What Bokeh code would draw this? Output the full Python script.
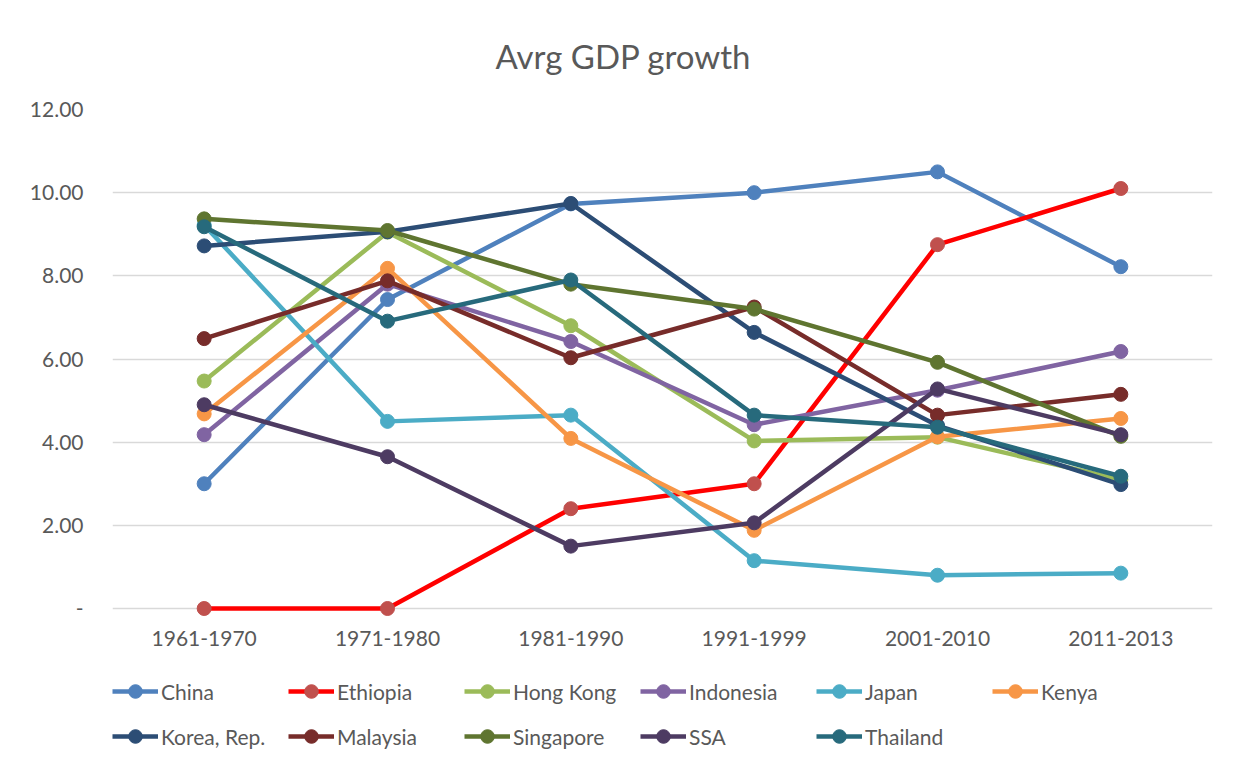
from bokeh.plotting import figure
from bokeh.models import FactorRange, Range1d, FixedTicker, Legend, LegendItem
from bokeh.core.properties import value
from bokeh.embed import file_html
from bokeh.resources import INLINE

periods = ["1961-1970", "1971-1980", "1981-1990", "1991-1999", "2001-2010", "2011-2013"]

china = [3.00, 7.43, 9.73, 10.00, 10.50, 8.22]
ethiopia = [0.00, 0.00, 2.40, 3.00, 8.75, 10.10]
hong_kong = [5.47, 9.05, 6.80, 4.03, 4.12, 3.10]
indonesia = [4.18, 7.80, 6.42, 4.42, 5.25, 6.18]
japan = [9.22, 4.50, 4.65, 1.15, 0.80, 0.85]
kenya = [4.68, 8.18, 4.09, 1.88, 4.13, 4.57]
korea = [8.72, 9.06, 9.74, 6.64, 4.40, 2.98]
malaysia = [6.49, 7.88, 6.03, 7.25, 4.65, 5.15]
singapore = [9.37, 9.09, 7.80, 7.20, 5.92, 4.14]
ssa = [4.90, 3.65, 1.50, 2.06, 5.28, 4.18]
thailand = [9.18, 6.91, 7.90, 4.65, 4.36, 3.18]

y_ticks = [0, 2, 4, 6, 8, 10, 12]
y_tick_labels = ["-", "2.00", "4.00", "6.00", "8.00", "10.00", "12.00"]

series = [
    ("China", china, "#4F81BD", "#4F81BD"),
    ("Ethiopia", ethiopia, "#FF0000", "#C0504D"),
    ("Hong Kong", hong_kong, "#9BBB59", "#9BBB59"),
    ("Indonesia", indonesia, "#8064A2", "#8064A2"),
    ("Japan", japan, "#4BACC6", "#4BACC6"),
    ("Kenya", kenya, "#F79646", "#F79646"),
    ("Korea, Rep.", korea, "#2C4D75", "#2C4D75"),
    ("Malaysia", malaysia, "#772C2A", "#772C2A"),
    ("Singapore", singapore, "#5F7530", "#5F7530"),
    ("SSA", ssa, "#4D3B62", "#4D3B62"),
    ("Thailand", thailand, "#276A7C", "#276A7C"),
]

FONT = "Lato"
TXT = "#595959"

# layout (pixels)
PLOT_PX = 499          # height of the 0..12 value band
BELOW_PX = 159         # band below the value 0 that holds category labels + legend
Y_MAX = 12
px_per_unit = PLOT_PX / Y_MAX
y_min = -BELOW_PX / px_per_unit
label_y = -30 / px_per_unit

p = figure(frame_width=1100, frame_height=PLOT_PX + BELOW_PX,
           x_range=FactorRange(*periods), y_range=Range1d(y_min, Y_MAX),
           output_backend="svg", toolbar_location=None,
           min_border_left=112, min_border_right=27,
           min_border_top=107, min_border_bottom=0)
p.outline_line_color = None

p.title.text = "Avrg GDP growth"
p.title.align = "left"
p.title.offset = 383
p.title.standoff = 67
p.title.text_font = FONT
p.title.text_font_size = "33px"
p.title.text_font_style = "normal"
p.title.text_color = TXT

p.xaxis.visible = False
p.yaxis.ticker = FixedTicker(ticks=y_ticks)
p.yaxis.major_label_overrides = {t: l for t, l in zip(y_ticks, y_tick_labels)}
p.yaxis.axis_line_color = None
p.yaxis.major_tick_line_color = None
p.yaxis.minor_tick_line_color = None
p.yaxis.major_label_text_font = FONT
p.yaxis.major_label_text_font_size = "21px"
p.yaxis.major_label_text_color = TXT
p.yaxis.major_label_standoff = 23
p.xgrid.grid_line_color = None
p.ygrid.grid_line_color = "#D9D9D9"
p.ygrid.grid_line_width = 1.3

# category labels under the value band
p.text(x=periods, y=[label_y] * len(periods), text=periods,
       text_font=value(FONT), text_font_size="21px", text_color=TXT,
       text_align="center", text_baseline="middle")

items = []
for name, vals, lc, mc in series:
    rl = p.line(periods, vals, line_color=lc, line_width=4.5)
    rs = p.scatter(periods, vals, size=14, fill_color=mc, line_color=mc)
    items.append(LegendItem(label=name, renderers=[rl, rs]))

def make_legend(its, vy):
    return Legend(items=its, orientation="horizontal", location=(0, vy),
                  glyph_width=46, glyph_height=34, label_standoff=3,
                  label_width=123, label_height=25, spacing=4, padding=0, margin=0,
                  border_line_color=None, background_fill_alpha=0,
                  label_text_font=FONT, label_text_font_size="21px",
                  label_text_color=TXT)

p.add_layout(make_legend(items[:6], 59), "center")
p.add_layout(make_legend(items[6:], 14), "center")

open("out.html", "w").write(file_html(p, INLINE))
